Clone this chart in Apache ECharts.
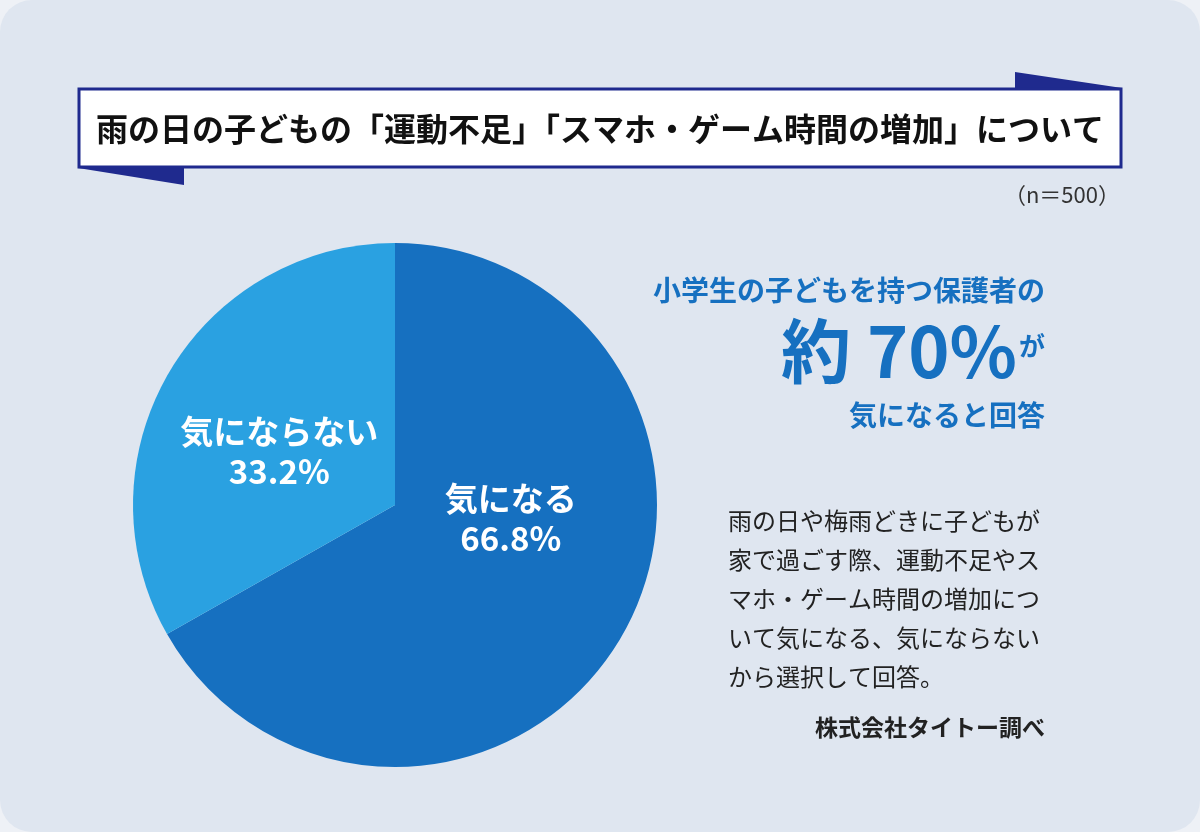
<!DOCTYPE html>
<html>
<head>
<meta charset="utf-8">
<script src="https://cdn.jsdelivr.net/npm/echarts@6/dist/echarts.min.js"></script>
<style>
  html, body { margin: 0; padding: 0; background: #eef1f6; }
  #main { width: 1200px; height: 832px; }
</style>
</head>
<body>
<div id="main"></div>
<script>
// データ
const categories = ['気になる', '気にならない'];
const values = [66.8, 33.2];
const sliceColors = ['#1670c0', '#2aa1e1'];

const titleText = '雨の日の子どもの「運動不足」「スマホ・ゲーム時間の増加」について';
const sampleText = '（n＝500）';
const noteLines = [
  '雨の日や梅雨どきに子どもが',
  '家で過ごす際、運動不足やス',
  'マホ・ゲーム時間の増加につ',
  'いて気になる、気にならない',
  'から選択して回答。'
];
const sourceText = '株式会社タイトー調べ';

const FONT = '"Noto Sans CJK JP", "Noto Sans", sans-serif';
const chart = echarts.init(document.getElementById('main'));

const option = {
  backgroundColor: '#eef1f6',
  animation: false,
  graphic: [
    // カード背景
    { type: 'rect', z: -10, shape: { x: 0, y: 0, width: 1200, height: 832, r: 32 },
      style: { fill: '#dfe6f0' } },
    // タイトルのリボン
    { type: 'polygon', z: 1, shape: { points: [[1015, 72], [1122, 88], [1015, 88]] },
      style: { fill: '#1f2a8e' } },
    { type: 'polygon', z: 1, shape: { points: [[78, 168], [184, 168], [184, 185]] },
      style: { fill: '#1f2a8e' } },
    { type: 'rect', z: 2, shape: { x: 79, y: 89, width: 1042, height: 78 },
      style: { fill: '#ffffff', stroke: '#1f2a8e', lineWidth: 3 } },
    { type: 'text', z: 3, x: 600, y: 129,
      style: { text: titleText, fill: '#111', font: 'bold 32px ' + FONT,
        align: 'center', verticalAlign: 'middle' } },
    { type: 'text', x: 1120, y: 195,
      style: { text: sampleText, fill: '#333', font: '22px ' + FONT,
        align: 'right', verticalAlign: 'middle' } },
    // 右側のコメント
    { type: 'text', x: 1045, y: 386,
      style: {
        text: '{big|約 70%}{small|が}', align: 'right', verticalAlign: 'bottom',
        rich: {
          big: { fill: '#1670c0', font: 'bold 70px ' + FONT },
          small: { fill: '#1670c0', font: 'bold 26px ' + FONT, padding: [0, 0, 10, 2] }
        }
      } },
    { type: 'text', x: 1045, y: 290,
      style: { text: '小学生の子どもを持つ保護者の', fill: '#1670c0', font: 'bold 28px ' + FONT,
        align: 'right', verticalAlign: 'middle' } },
    { type: 'text', x: 1045, y: 415,
      style: { text: '気になると回答', fill: '#1670c0', font: 'bold 28px ' + FONT,
        align: 'right', verticalAlign: 'middle' } },
    { type: 'text', x: 728, y: 501,
      style: { text: noteLines.join('\n'), fill: '#222', font: '24px ' + FONT,
        lineHeight: 39, align: 'left', verticalAlign: 'top' } },
    { type: 'text', x: 1045, y: 727,
      style: { text: sourceText, fill: '#222', font: 'bold 23px ' + FONT,
        align: 'right', verticalAlign: 'middle' } }
  ],
  series: [{
    type: 'pie',
    center: [395, 505],
    radius: [0, 262],
    startAngle: 90,
    clockwise: true,
    label: {
      show: true,
      position: 'inside',
      color: '#fff',
      fontFamily: FONT,
      fontWeight: 'bold',
      fontSize: 33,
      lineHeight: 40,
      formatter: p => p.name + '\n' + p.value.toFixed(1) + '%'
    },
    labelLayout: p => p.dataIndex === 0 ? { dy: -54 } : { dy: 14 },
    itemStyle: { borderWidth: 0 },
    emphasis: { disabled: true },
    data: categories.map((c, i) => ({ name: c, value: values[i], itemStyle: { color: sliceColors[i] } }))
  }]
};

chart.setOption(option);
</script>
</body>
</html>
